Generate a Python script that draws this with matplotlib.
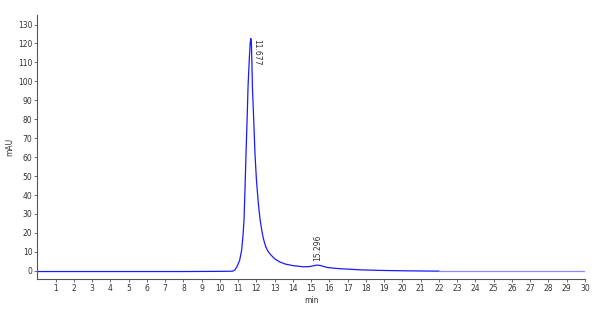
import matplotlib
matplotlib.use('agg')
import matplotlib.pyplot as plt

# Chromatogram trace (time in min, signal in mAU)
time_min = [0.0, 2.0, 5.0, 8.0, 10.0, 10.5, 10.7, 10.83, 10.95, 11.08, 11.19,
            11.26, 11.32, 11.38, 11.43, 11.49, 11.54, 11.61, 11.66, 11.69,
            11.72, 11.75, 11.78, 11.85, 11.92, 12.0, 12.1, 12.2, 12.3, 12.38,
            12.5, 12.62, 12.75, 13.0, 13.29, 13.6, 14.02, 14.57, 14.9, 15.1,
            15.296, 15.5, 15.85, 16.2, 16.58, 17.68, 18.77, 20.0, 21.0, 22.0]
signal_mau = [-0.4, -0.4, -0.4, -0.4, -0.3, -0.25, -0.2, 0.5, 2.5, 5.5, 10.9,
              18.0, 26.8, 45.0, 62.0, 80.0, 97.0, 112.0, 120.5, 122.6,
              121.0, 111.0, 97.0, 80.0, 62.0, 48.0, 36.0, 27.0, 21.0, 17.0,
              13.0, 10.5, 8.8, 6.3, 4.6, 3.5, 2.7, 2.1, 2.2, 2.6,
              3.0, 2.8, 1.8, 1.4, 1.1, 0.5, 0.2, 0.0, -0.1, -0.2]

# baseline drawn past the end of the run
base_time = [22.0, 30.0]
base_mau = [-0.2, -0.2]

# peak labels
peak_times = [11.677, 15.296]
peak_heights = [122.6, 3.0]

fig = plt.figure(figsize=(6, 3.14), dpi=100)
ax = fig.add_axes([0.0623, 0.1105, 0.9127, 0.8415])

ax.plot(time_min, signal_mau, color='#1a1aff', lw=0.9)
ax.plot(base_time, base_mau, color='#8a8aff', lw=0.9)

# peak retention times
ax.annotate(f"{peak_times[0]:.3f}", xy=(peak_times[0], peak_heights[0]),
            xytext=(4.5, 0), textcoords='offset points', rotation=270,
            ha='center', va='top', fontsize=5.5, color='#333333')
ax.annotate(f"{peak_times[1]:.3f}", xy=(peak_times[1], peak_heights[1]),
            xytext=(1, 3), textcoords='offset points', rotation=90,
            ha='center', va='bottom', fontsize=5.5, color='#333333')

ax.set_xlim(0, 30)
ax.set_ylim(-4.5, 135)
ax.set_xticks(range(1, 31))
ax.set_yticks(range(0, 131, 10))

for side in ['top', 'right']:
    ax.spines[side].set_visible(False)
for side in ['left', 'bottom']:
    ax.spines[side].set_color('#555555')
    ax.spines[side].set_linewidth(0.8)

ax.tick_params(labelsize=5.5, colors='#555555', labelcolor='#333333',
               length=2, width=0.6, pad=1.5)

ax.set_xlabel("min", fontsize=5.5, color='#333333', labelpad=2)
ax.set_ylabel("mAU", fontsize=5.5, color='#333333', labelpad=3)

fig.savefig("out.png", dpi=100)
